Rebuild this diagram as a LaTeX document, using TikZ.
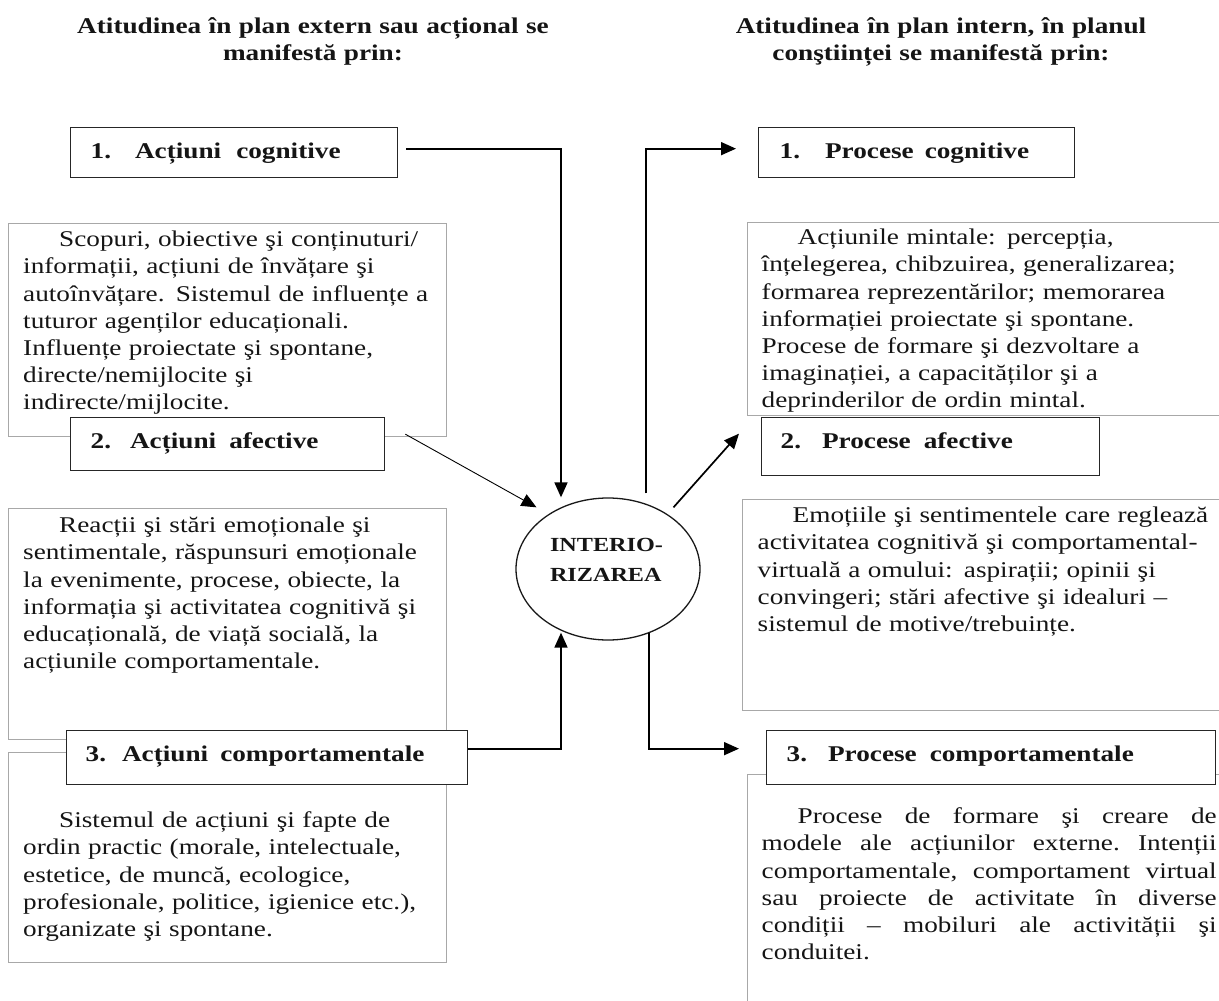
\documentclass[tikz,border=0pt]{standalone}
\usepackage{fontspec}
\setmainfont[FakeStretch=1.21]{Liberation Serif}
\usetikzlibrary{shapes.geometric, arrows.meta}
\definecolor{boxgray}{HTML}{A8A8A8}
\definecolor{ink}{HTML}{151515}
\newcommand\mybody{\fontsize{22.5}{27.2}\selectfont}
\newcommand\mylabel{\fontsize{22.5}{27.2}\selectfont\bfseries}
\newcommand\myhead{\fontsize{22.5}{27}\selectfont\bfseries}
\newcommand\myell{\fontsize{20}{30}\selectfont\bfseries}
\newcommand\jline[1]{\leavevmode\hbox to 455pt{#1}}
\begin{document}
\begin{tikzpicture}[x=1pt, y=-1pt,
  graybox/.style={draw=boxgray, line width=1.4pt, anchor=north west, inner ysep=0pt, align=left, font=\mybody, text=ink},
  labelbox/.style={draw=black!85, line width=1.3pt, fill=white, anchor=north west, inner ysep=0pt, align=left, font=\mylabel, text=ink},
  headtext/.style={anchor=base, inner sep=0pt, text width=600pt, align=center, font=\myhead, text=ink},
  conn/.style={line width=1.7pt, -{Triangle[length=15pt,width=13pt]}},
  thinconn/.style={line width=0.9pt, -{Triangle[length=15pt,width=13pt]}}
]
\useasboundingbox (0,0) rectangle (1219,1001);
\clip (0,0) rectangle (1219,1001);
\fill[white] (0,0) rectangle (1219,1001);

% headers
\node[headtext] (hl) at (313,33.3) {Atitudinea în plan extern sau acțional se\\ manifestă prin:};
\node[headtext] (hr) at (941,33.3) {Atitudinea în plan intern, în planul\\ conştiinței se manifestă prin:};

% gray text boxes, left
\node[graybox, inner xsep=14.5pt, text width=409pt, text height=23pt, text depth=190pt] (g1) at (8,223) {%
\hspace*{36pt}Scopuri, obiective şi conținuturi/\\
informații, acțiuni de învățare şi\\
autoînvățare. Sistemul de influențe a\\
tuturor agenților educaționali.\\
Influențe proiectate şi spontane,\\
directe/nemijlocite şi\\
indirecte/mijlocite.};

\node[graybox, inner xsep=14.5pt, text width=409pt, text height=24pt, text depth=207pt] (g2) at (8,508) {%
\hspace*{36pt}Reacții şi stări emoționale şi\\
sentimentale, răspunsuri emoționale\\
la evenimente, procese, obiecte, la\\
informația şi activitatea cognitivă şi\\
educațională, de viață socială, la\\
acțiunile comportamentale.};

\node[graybox, inner xsep=14.5pt, text width=409pt, text height=75pt, text depth=135pt] (g3) at (8,752) {%
\hspace*{36pt}Sistemul de acțiuni şi fapte de\\
ordin practic (morale, intelectuale,\\
estetice, de muncă, ecologice,\\
profesionale, politice, igienice etc.),\\
organizate şi spontane.};

% gray text boxes, right
\node[graybox, inner xsep=14pt, text width=465pt, text height=22pt, text depth=171pt] (g4) at (747,222) {%
\hspace*{36pt}Acțiunile mintale: percepția,\\
înțelegerea, chibzuirea, generalizarea;\\
formarea reprezentărilor; memorarea\\
informației proiectate şi spontane.\\
Procese de formare şi dezvoltare a\\
imaginației, a capacităților şi a\\
deprinderilor de ordin mintal.};

\node[graybox, inner xsep=15pt, text width=468pt, text height=23pt, text depth=188pt] (g5) at (742,499) {%
\hspace*{35pt}Emoțiile şi sentimentele care reglează\\
activitatea cognitivă şi comportamental-\\
virtuală a omului: aspirații; opinii şi\\
convingeri; stări afective şi idealuri –\\
sistemul de motive/trebuințe.};

\node[graybox, inner xsep=14pt, text width=455pt, text height=49pt, text depth=187pt] (g6) at (747,774) {%
\jline{\hspace*{36pt}Procese\hfill de\hfill formare\hfill şi\hfill creare\hfill de}\\
\jline{modele\hfill ale\hfill acțiunilor\hfill externe.\hfill Intenții}\\
\jline{comportamentale,\hfill comportament\hfill virtual}\\
\jline{sau\hfill proiecte\hfill de\hfill activitate\hfill în\hfill diverse}\\
\jline{condiții\hfill –\hfill mobiluri\hfill ale\hfill activității\hfill şi}\\
conduitei.};

% label boxes
\node[labelbox, inner xsep=20pt, text width=287pt, text height=31pt, text depth=19pt] (c1) at (70,127) {1.\hspace{24pt}Acțiuni\hspace{15pt}cognitive};
\node[labelbox, inner xsep=20pt, text width=274pt, text height=31pt, text depth=22pt] (c2) at (70,417) {2.\hspace{19pt}Acțiuni\hspace{13pt}afective};
\node[labelbox, inner xsep=19pt, text width=363pt, text height=31pt, text depth=23pt] (c3) at (66,730) {3.\hspace{16pt}Acțiuni\hspace{12pt}comportamentale};
\node[labelbox, inner xsep=21pt, text width=274pt, text height=31pt, text depth=19pt] (p1) at (758,127) {1.\hspace{25pt}Procese\hspace{11pt}cognitive};
\node[labelbox, inner xsep=19pt, text width=300pt, text height=31pt, text depth=27pt] (p2) at (761,417) {2.\hspace{21pt}Procese\hspace{13pt}afective};
\node[labelbox, inner xsep=20pt, text width=409pt, text height=31pt, text depth=23pt] (p3) at (766,730) {3.\hspace{21pt}Procese\hspace{13pt}comportamentale};

% central ellipse
\node[ellipse, draw=black!90, line width=1.3pt, fill=white, minimum width=184pt, minimum height=142pt, inner sep=0pt,
      text width=116pt, align=left, text height=0pt, text depth=34.6pt, font=\myell, text=ink] (ell) at (608,569) {INTERIO-\\RIZAREA};

% connectors
\draw[conn] ([xshift=8pt,yshift=4pt]c1.east) -| ([xshift=-47pt]ell.north);
\draw[thinconn] ([xshift=20pt,yshift=10pt]c2.east) -- ([xshift=-6pt,yshift=11pt]ell.north west);
\draw[conn] ([yshift=9pt]c3.east) -| ([xshift=-47pt,yshift=8pt]ell.south);
\draw[conn] ([xshift=38pt,yshift=4pt]ell.north) |- ([xshift=-22pt,yshift=4pt]p1.west);
\draw[conn] ([yshift=11pt]ell.north east) -- ([xshift=-22pt,yshift=13pt]p2.west);
\draw[conn] ([xshift=41pt,yshift=8pt]ell.south) |- ([xshift=-27pt,yshift=9pt]p3.west);
\end{tikzpicture}
\end{document}
